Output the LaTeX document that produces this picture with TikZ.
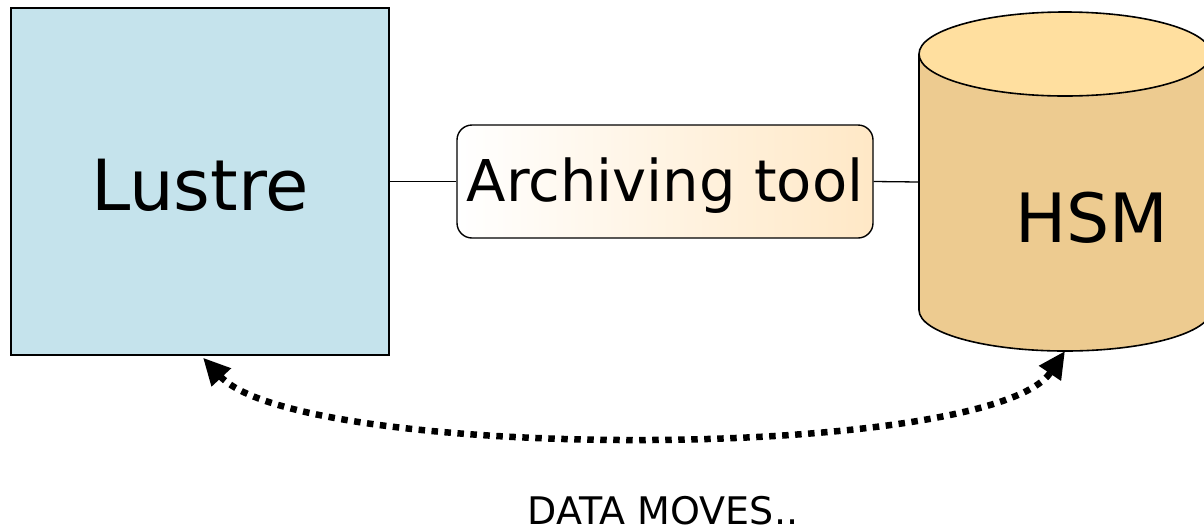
\documentclass[tikz,border=0pt]{standalone}
\usepackage{fontspec}
\setmainfont{DejaVu Sans}
\usetikzlibrary{arrows.meta}
\definecolor{lustrefill}{HTML}{C5E3EC}
\definecolor{cyltop}{HTML}{FFDF9F}
\definecolor{cylside}{HTML}{EDCB90}
\definecolor{archright}{HTML}{FFE8C6}
\tikzset{
  box/.style={draw=black, line width=1.4pt, inner sep=0pt},
  conn/.style={draw=black, line width=1.3pt},
  outline/.style={draw=black, line width=1.6pt},
  moves/.style={line width=6.5pt, dash pattern=on 6.5pt off 6.5pt,
    {Triangle[length=27pt,width=25pt]}-{Triangle[length=27pt,width=25pt]}}
}
\begin{document}
\begin{tikzpicture}[x=1pt,y=-1pt]
\useasboundingbox (0,0) rectangle (1204,531);
\begin{scope}
\clip (0,0) rectangle (1204,531);
% cylinder
\fill[cylside] (919,54) -- (919,310) arc[start angle=180,end angle=360,x radius=146,y radius=-41] -- (1211,54) -- cycle;
\draw[outline] (919,54) -- (919,310) arc[start angle=180,end angle=360,x radius=146,y radius=-41] -- (1211,54);
\draw[outline, fill=cyltop] (1065,54) ellipse[x radius=146, y radius=42];
\end{scope}
\coordinate (cylL) at (919,182);
\coordinate (cylB) at (1065,351);
\node[font=\fontsize{68}{80}\selectfont] (hsm) at (1092,218) {HSM};
% Lustre
\node[box, fill=lustrefill, minimum width=378pt, minimum height=347pt] (lustre) at (200,181.5) {};
\node[font=\fontsize{70.5}{84}\selectfont] (lustretxt) at (200,185) {Lustre};
% Archiving tool
\node[box, rounded corners=15pt, left color=white, right color=archright, minimum width=416pt, minimum height=113pt] (arch) at (665,181.5) {};
\node[font=\fontsize{57.6}{68}\selectfont] (archtxt) at (665,186) {Archiving tool};
% connectors
\draw[conn] (lustre.east) -- (arch.west);
\draw[conn] (arch.east) -- (cylL);
% data movement
\draw[moves] ([xshift=3pt,yshift=-2pt]lustre.south) .. controls (300,462) and (990,462) .. (cylB);
\node[font=\fontsize{38}{46}\selectfont, inner sep=0pt] (datamoves) at (663,511) {DATA MOVES..};
\end{tikzpicture}
\end{document}
